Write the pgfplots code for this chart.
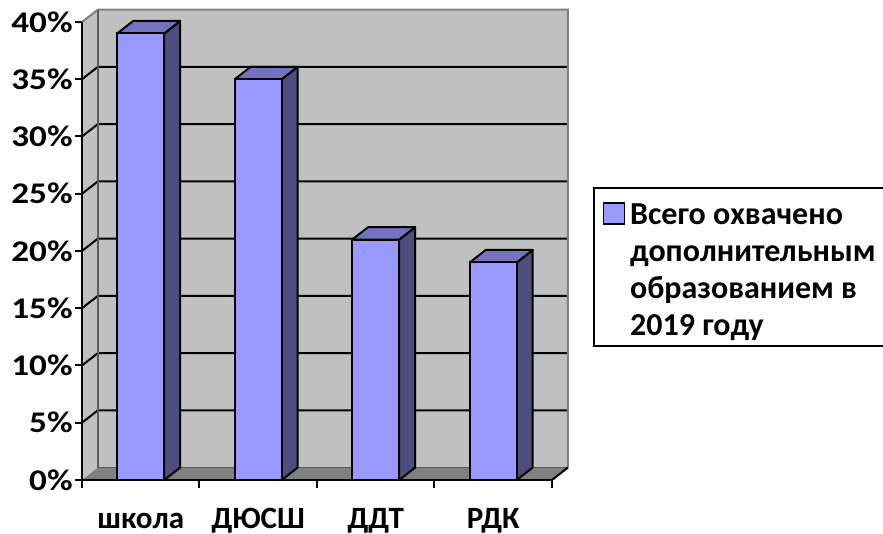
\documentclass[border=0pt]{standalone}
\usepackage{pgfplots}
\pgfplotsset{compat=1.18}
\usepackage{pgfplotstable}
\usepackage{fontspec}
\setmainfont{Carlito}
\newfontfamily\tickfont{Carlito}[FakeStretch=1.17]
\definecolor{barfront}{HTML}{9999FF}
\definecolor{barside}{HTML}{4D4D80}
\definecolor{bartop}{HTML}{7373BF}
\definecolor{wallgray}{HTML}{C0C0C0}
\definecolor{floorgray}{HTML}{808080}
\def\dx{0.136}\def\dy{1.09}
\newcommand\sidetop[2]{%
  \pgfmathsetmacro\xr{#1+0.2}\pgfmathsetmacro\xl{#1-0.2}%
  \pgfmathsetmacro\xrb{#1+0.2+\dx}\pgfmathsetmacro\xlb{#1-0.2+\dx}%
  \pgfmathsetmacro\vt{#2+\dy}%
  \addplot[forget plot, fill=barside, draw=black, line width=1pt, line join=round]
    coordinates {(\xr,0) (\xrb,\dy) (\xrb,\vt) (\xr,#2)} --cycle;
  \addplot[forget plot, fill=bartop, draw=black, line width=1pt, line join=round]
    coordinates {(\xl,#2) (\xr,#2) (\xrb,\vt) (\xlb,\vt)} --cycle;
}
\pgfplotstableread{
pos val
0.5 39
1.5 35
2.5 21
3.5 19
}\data
\begin{document}
\begin{tikzpicture}
\useasboundingbox (-41pt,-27pt) rectangle (400.5pt,240pt);
\begin{axis}[
  anchor=origin, x=58.75pt, y=5.725pt,
  xmin=0, xmax=4.136, ymin=0, ymax=41.09,
  clip=false,
  axis line style={draw=none},
  xtick={0.5,1.5,2.5,3.5},
  xticklabels={школа,ДЮСШ,ДДТ,РДК},
  xtick style={draw=none},
  xticklabel style={anchor=base, yshift=-21pt, font=\bfseries\fontsize{15.5}{18}\selectfont},
  ytick={0,5,...,40},
  yticklabel={\pgfmathprintnumber{\tick}\%},
  yticklabel style={font=\tickfont\bfseries\fontsize{15}{18}\selectfont, inner sep=1pt},
  /pgf/number format/assume math mode=true,
  ytick style={black, line width=1pt},
  xtick pos=bottom, ytick pos=left,
  tick align=outside, major tick length=3.5pt,
  legend style={at={(1.0514,0.6227)}, anchor=north west, draw=black, line width=1pt,
    inner xsep=4.3pt, inner ysep=3.5pt, column sep=2.5pt,
    nodes={inner sep=0pt},
    font=\bfseries\fontsize{16}{18.6}\selectfont, cells={anchor=base west}},
]
% back wall, left wall, floor
\addplot[forget plot, fill=wallgray, draw=none] coordinates {(0.136,1.09) (4.136,1.09) (4.136,41.09) (0.136,41.09)} --cycle;
\addplot[forget plot, fill=wallgray, draw=none] coordinates {(0,0) (0.136,1.09) (0.136,41.09) (0,40)} --cycle;
\addplot[forget plot, fill=floorgray, draw=none] coordinates {(0,0) (4,0) (4.136,1.09) (0.136,1.09)} --cycle;
% gridlines
\addplot[forget plot, black, line width=1pt] coordinates {(0,5) (0.136,6.09) (4.136,6.09)};
\addplot[forget plot, black, line width=1pt] coordinates {(0,10) (0.136,11.09) (4.136,11.09)};
\addplot[forget plot, black, line width=1pt] coordinates {(0,15) (0.136,16.09) (4.136,16.09)};
\addplot[forget plot, black, line width=1pt] coordinates {(0,20) (0.136,21.09) (4.136,21.09)};
\addplot[forget plot, black, line width=1pt] coordinates {(0,25) (0.136,26.09) (4.136,26.09)};
\addplot[forget plot, black, line width=1pt] coordinates {(0,30) (0.136,31.09) (4.136,31.09)};
\addplot[forget plot, black, line width=1pt] coordinates {(0,35) (0.136,36.09) (4.136,36.09)};
% wall borders
\addplot[forget plot, floorgray, line width=1pt] coordinates {(0,40) (0.136,41.09) (4.136,41.09) (4.136,1.09)};
\addplot[forget plot, floorgray!70!black, line width=0.6pt] coordinates {(0.136,41.09) (0.136,1.09) (4.136,1.09)};
\addplot[forget plot, black, line width=1pt] coordinates {(4,0) (4.136,1.09)};
% axes
\addplot[forget plot, black, line width=1pt] coordinates {(0,40) (0,0) (4,0)};
\addplot[forget plot, black, line width=1pt, unbounded coords=jump] coordinates {
  (0,0) (0,-0.7) (0,nan) (1,0) (1,-0.7) (1,nan) (2,0) (2,-0.7) (2,nan)
  (3,0) (3,-0.7) (3,nan) (4,0) (4,-0.7)};
% bars: sides and tops
\sidetop{0.5}{39}
\sidetop{1.5}{35}
\sidetop{2.5}{21}
\sidetop{3.5}{19}
% bars: front faces
\addplot[forget plot, ybar, bar width=0.4, fill=barfront, draw=black, line width=1pt] table[x=pos, y=val]{\data};
\addlegendimage{legend image code/.code={\draw[fill=barfront, draw=black, line width=0.8pt] (0pt,55.8pt) rectangle (10.5pt,66.3pt);}}
\addlegendentry{\begin{tabular}[b]{@{}l@{}}\rule{0pt}{14.5pt}Всего охвачено\\дополнительным\\образованием в\\2019 году\end{tabular}}
\end{axis}
\end{tikzpicture}
\end{document}
